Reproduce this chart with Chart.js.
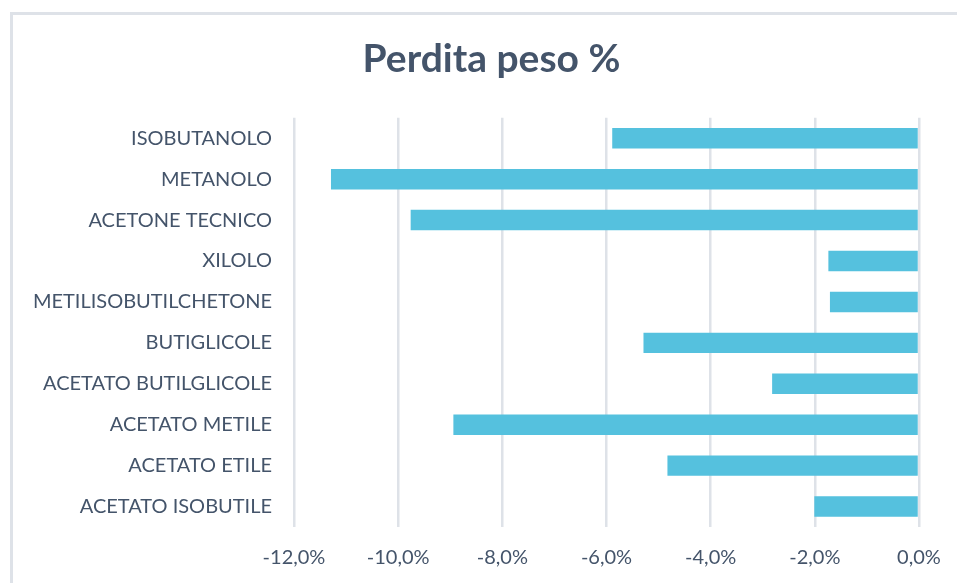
<!DOCTYPE html>
<html lang="it">
<head>
<meta charset="utf-8">
<title>Perdita peso %</title>
<script src="https://cdn.jsdelivr.net/npm/chart.js@4.4.1/dist/chart.umd.min.js"></script>
<style>
  html, body { margin: 0; padding: 0; background: #fff; overflow: hidden; }
  #wrap { position: relative; width: 957px; height: 583px; }
  #frame { position: absolute; left: 10px; top: 12px; width: 960px; height: 600px;
           border-left: 3px solid #DEE2E8; border-top: 3px solid #DEE2E8; }
  canvas { position: absolute; left: 0; top: 0; }
</style>
</head>
<body>
<div id="wrap">
  <div id="frame"></div>
  <canvas id="chart" width="957" height="583"></canvas>
</div>
<script>
const categorie = ['ISOBUTANOLO', 'METANOLO', 'ACETONE TECNICO', 'XILOLO', 'METILISOBUTILCHETONE',
  'BUTIGLICOLE', 'ACETATO BUTILGLICOLE', 'ACETATO METILE', 'ACETATO ETILE', 'ACETATO ISOBUTILE'];
const perditaPeso = [-5.89, -11.29, -9.76, -1.74, -1.71, -5.29, -2.82, -8.94, -4.83, -2.01];

const testo = '#44546A';

// il titolo in Excel e' centrato sull'area del grafico, non sulla tela
const spostaTitolo = {
  id: 'spostaTitolo',
  afterLayout(chart) {
    const t = chart.titleBlock;
    if (t) { t.left += 32; t.right += 32; }
  }
};

new Chart(document.getElementById('chart'), {
  type: 'bar',
  data: {
    labels: categorie,
    datasets: [{
      label: 'Perdita peso %',
      data: perditaPeso,
      backgroundColor: '#55C1DE',
      borderWidth: 0,
      categoryPercentage: 1,
      barPercentage: 0.5
    }]
  },
  options: {
    indexAxis: 'y',
    responsive: false,
    animation: false,
    layout: { padding: { left: 0, right: 38, top: 0, bottom: 0 } },
    plugins: {
      legend: { display: false },
      tooltip: { enabled: false },
      title: {
        display: true,
        text: 'Perdita peso %',
        color: testo,
        font: { family: 'Lato', size: 39, weight: 'bold', lineHeight: 1.2 },
        padding: { top: 36, bottom: 35 }
      }
    },
    scales: {
      x: {
        min: -12,
        max: 0,
        ticks: {
          stepSize: 2,
          color: testo,
          padding: 19,
          font: { family: 'Lato', size: 20 },
          callback: v => v.toFixed(1).replace('.', ',') + '%'
        },
        grid: { color: '#DEE2E8', lineWidth: 2.5, drawTicks: false },
        border: { display: false },
        afterFit: s => { s.height = 56; s.paddingLeft = 0; s.paddingRight = 0; }
      },
      y: {
        ticks: {
          color: testo,
          padding: 14,
          font: { family: 'Lato', size: 20 }
        },
        grid: { display: false },
        border: { display: false },
        afterFit: s => { s.width = 294; }
      }
    }
  },
  plugins: [spostaTitolo]
});
</script>
</body>
</html>
